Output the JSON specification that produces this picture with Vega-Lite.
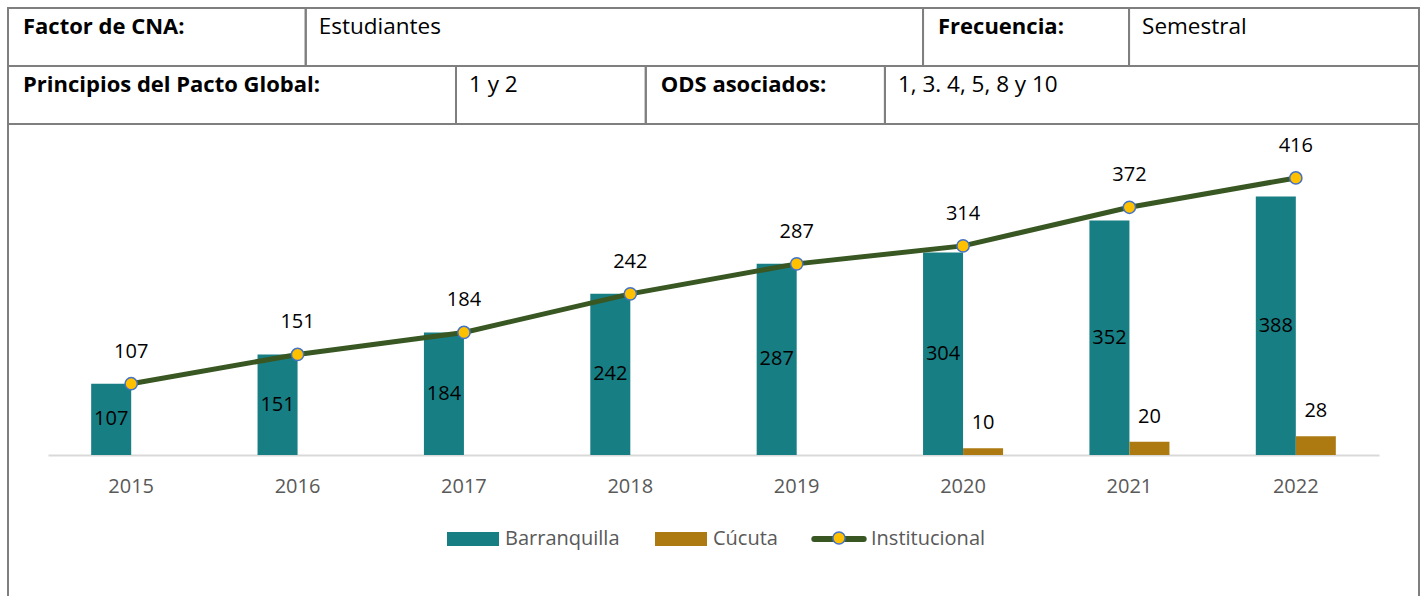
{
  "$schema": "https://vega.github.io/schema/vega-lite/v6.json",
  "padding": {"left": 6, "top": 6, "right": 0, "bottom": 0},
  "bounds": "flush",
  "spacing": 0,
  "config": {
    "view": {"stroke": "#7F7F7F", "strokeWidth": 2},
    "font": "Open Sans"
  },
  "datasets": {
    "tabla": [
      {"fila": 1, "c0": 0, "c1": 21.1, "texto": "Factor de CNA:", "tipo": "etiqueta"},
      {"fila": 1, "c0": 21.1, "c1": 64.85, "texto": "Estudiantes", "tipo": "valor"},
      {"fila": 1, "c0": 64.85, "c1": 79.45, "texto": "Frecuencia:", "tipo": "etiqueta"},
      {"fila": 1, "c0": 79.45, "c1": 100, "texto": "Semestral", "tipo": "valor"},
      {"fila": 2, "c0": 0, "c1": 31.75, "texto": "Principios del Pacto Global:", "tipo": "etiqueta"},
      {"fila": 2, "c0": 31.75, "c1": 45.2, "texto": "1 y 2", "tipo": "valor"},
      {"fila": 2, "c0": 45.2, "c1": 62.15, "texto": "ODS asociados:", "tipo": "etiqueta"},
      {"fila": 2, "c0": 62.15, "c1": 100, "texto": "1, 3. 4, 5, 8 y 10", "tipo": "valor"}
    ],
    "barras": [
      {"anio": "2015", "serie": "Barranquilla", "valor": 107},
      {"anio": "2016", "serie": "Barranquilla", "valor": 151},
      {"anio": "2017", "serie": "Barranquilla", "valor": 184},
      {"anio": "2018", "serie": "Barranquilla", "valor": 242},
      {"anio": "2019", "serie": "Barranquilla", "valor": 287},
      {"anio": "2020", "serie": "Barranquilla", "valor": 304},
      {"anio": "2021", "serie": "Barranquilla", "valor": 352},
      {"anio": "2022", "serie": "Barranquilla", "valor": 388},
      {"anio": "2020", "serie": "Cúcuta", "valor": 10},
      {"anio": "2021", "serie": "Cúcuta", "valor": 20},
      {"anio": "2022", "serie": "Cúcuta", "valor": 28}
    ],
    "inst": [
      {"anio": "2015", "serie": "Institucional", "valor": 107},
      {"anio": "2016", "serie": "Institucional", "valor": 151},
      {"anio": "2017", "serie": "Institucional", "valor": 184},
      {"anio": "2018", "serie": "Institucional", "valor": 242},
      {"anio": "2019", "serie": "Institucional", "valor": 287},
      {"anio": "2020", "serie": "Institucional", "valor": 314},
      {"anio": "2021", "serie": "Institucional", "valor": 372},
      {"anio": "2022", "serie": "Institucional", "valor": 416}
    ]
  },
  "vconcat": [
    {
      "width": 1411,
      "height": 116,
      "data": {"name": "tabla"},
      "encoding": {
        "x": {"field": "c0", "type": "quantitative", "scale": {"domain": [0, 100], "nice": false, "zero": false}, "axis": null},
        "y": {"field": "fila", "type": "ordinal", "scale": {"paddingInner": 0, "paddingOuter": 0}, "axis": null}
      },
      "layer": [
        {
          "mark": {"type": "rect", "fill": null, "fillOpacity": 0, "stroke": "#7F7F7F", "strokeWidth": 2},
          "encoding": {"x2": {"field": "c1"}}
        },
        {
          "transform": [{"filter": "datum.tipo === 'etiqueta'"}],
          "mark": {"type": "text", "align": "left", "baseline": "alphabetic", "dx": 15, "dy": 26, "font": "Open Sans", "fontSize": 22, "fontWeight": "bold", "color": "#000000"},
          "encoding": {"y": {"field": "fila", "type": "ordinal", "bandPosition": 0}, "text": {"field": "texto"}}
        },
        {
          "transform": [{"filter": "datum.tipo === 'valor'"}],
          "mark": {"type": "text", "align": "left", "baseline": "alphabetic", "dx": 13, "dy": 26, "font": "Open Sans", "fontSize": 22.5, "color": "#000000"},
          "encoding": {"y": {"field": "fila", "type": "ordinal", "bandPosition": 0}, "text": {"field": "texto"}}
        }
      ]
    },
    {
      "width": 1411,
      "height": 480,
      "resolve": {"scale": {"y": "independent"}},
      "layer": [
        {
          "encoding": {
            "x": {
              "field": "anio", "type": "nominal", "sort": null,
              "scale": {"range": [40, 1371], "paddingInner": 0.519, "paddingOuter": 0.2595},
              "axis": {"orient": "bottom", "offset": -149, "title": null, "labelAngle": 0, "ticks": false, "grid": false,
                       "domainColor": "#D9D9D9", "domainWidth": 2, "labelFont": "Open Sans", "labelFontSize": 20,
                       "labelColor": "#595959", "labelPadding": 21}
            }
          },
          "layer": [
            {
              "data": {"name": "barras"},
              "mark": {"type": "bar"},
              "encoding": {
                "xOffset": {"field": "serie", "type": "nominal", "scale": {"domain": ["Barranquilla", "Cúcuta"], "paddingInner": 0, "paddingOuter": 0}},
                "y": {"field": "valor", "type": "quantitative", "scale": {"domain": [-223.7, 497], "nice": false, "zero": false}, "axis": null},
                "color": {
                  "field": "serie", "type": "nominal",
                  "scale": {"domain": ["Barranquilla", "Cúcuta"], "range": ["#177E84", "#AD7A11"]},
                  "legend": {
                    "orient": "none", "legendX": 439, "legendY": 505, "direction": "horizontal", "title": null,
                    "labelFont": "Open Sans", "labelFontSize": 20, "labelColor": "#595959", "labelOffset": 6,
                    "columnPadding": 35, "symbolSize": 2704,
                    "encode": {
                      "symbols": {
                        "update": {
                          "size": {"value": 2704},
                          "shape": {"value": "M-1,-0.27H1V0.27H-1Z"},
                          "fill": {"signal": "datum.value === 'Barranquilla' ? '#177E84' : '#AD7A11'"},
                          "stroke": {"value": "transparent"},
                          "strokeWidth": {"value": 0},
                          "opacity": {"value": 1},
                          "fillOpacity": {"value": 1}
                        }
                      }
                    }
                  }
                }
              }
            },
            {
              "data": {"name": "inst"},
              "mark": {"type": "line", "strokeWidth": 5, "strokeCap": "round"},
              "encoding": {
                "y": {"field": "valor", "type": "quantitative"},
                "stroke": {
                  "field": "serie", "type": "nominal", "scale": {"range": ["#385723"]},
                  "legend": {
                    "orient": "none", "legendX": 802, "legendY": 502, "title": null,
                    "labelFont": "Open Sans", "labelFontSize": 20, "labelColor": "#595959", "labelOffset": 3,
                    "symbolSize": 2704,
                    "encode": {
                      "symbols": {
                        "update": {
                          "size": {"value": 2704},
                          "shape": {"value": "M-0.95,0H0.95"},
                          "fill": {"value": "transparent"},
                          "stroke": {"value": "#385723"},
                          "strokeWidth": {"value": 6},
                          "strokeCap": {"value": "round"},
                          "opacity": {"value": 1},
                          "strokeOpacity": {"value": 1}
                        }
                      }
                    }
                  }
                }
              }
            },
            {
              "data": {"name": "inst"},
              "mark": {"type": "circle", "size": 150, "stroke": "#4472C4", "strokeWidth": 1.5, "opacity": 1, "fillOpacity": 1},
              "encoding": {
                "y": {"field": "valor", "type": "quantitative"},
                "fill": {
                  "field": "serie", "type": "nominal", "scale": {"range": ["#FFC000"]},
                  "legend": {"orient": "none", "legendX": 824, "legendY": 523, "title": null, "labelExpr": "''",
                             "symbolType": "circle", "symbolSize": 150, "symbolStrokeColor": "#4472C4", "symbolStrokeWidth": 1.5,
                             "symbolFillColor": "#FFC000", "symbolOpacity": 1}
                }
              }
            },
            {
              "data": {"name": "inst"},
              "mark": {"type": "text", "baseline": "middle", "dy": -32, "font": "Open Sans", "fontSize": 20, "color": "#000000"},
              "encoding": {
                "y": {"field": "valor", "type": "quantitative"},
                "text": {"field": "valor", "type": "quantitative"}
              }
            },
            {
              "data": {"name": "barras"},
              "transform": [{"filter": "datum.serie === 'Cúcuta'"}],
              "mark": {"type": "text", "baseline": "middle", "dy": -25, "font": "Open Sans", "fontSize": 20, "color": "#000000"},
              "encoding": {
                "xOffset": {"field": "serie", "type": "nominal"},
                "y": {"field": "valor", "type": "quantitative"},
                "text": {"field": "valor", "type": "quantitative"}
              }
            }
          ]
        },
        {
          "data": {"name": "barras"},
          "transform": [{"filter": "datum.serie === 'Barranquilla'"}],
          "mark": {"type": "text", "baseline": "middle", "font": "Open Sans", "fontSize": 20, "color": "#000000"},
          "encoding": {
            "x": {"field": "anio", "type": "nominal", "sort": null},
            "xOffset": {"field": "serie", "type": "nominal"},
            "y": {"field": "valor", "type": "quantitative", "scale": {"domain": [-447.4, 994], "nice": false, "zero": false}, "axis": null},
            "text": {"field": "valor", "type": "quantitative"}
          }
        }
      ]
    }
  ]
}
